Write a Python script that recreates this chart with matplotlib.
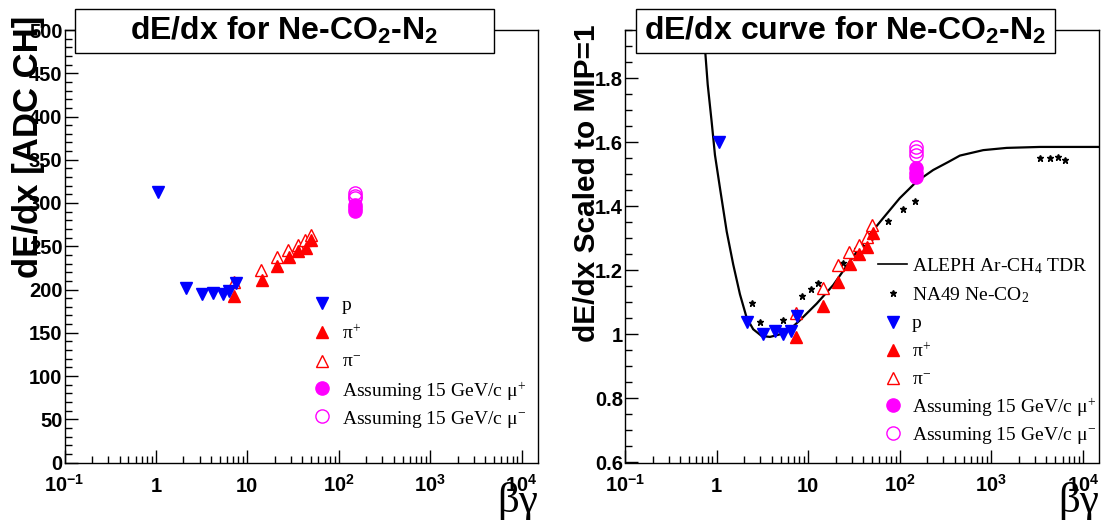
import matplotlib
matplotlib.use("Agg")
import matplotlib.pyplot as plt
from matplotlib.patches import Rectangle
from matplotlib.lines import Line2D
from matplotlib.ticker import LogLocator, NullFormatter, FixedLocator, MultipleLocator

plt.rcParams['font.family'] = ['Liberation Sans', 'DejaVu Sans']
plt.rcParams['mathtext.fontset'] = 'custom'
plt.rcParams['mathtext.rm'] = 'Liberation Serif'
plt.rcParams['mathtext.it'] = 'Liberation Serif'
plt.rcParams['mathtext.bf'] = 'Liberation Sans:bold'
plt.rcParams['mathtext.sf'] = 'Liberation Sans'

# ---------------- data: left panel (raw ADC) ----------------
p_bg_l = [1.06, 2.13, 3.16, 4.23, 5.36, 6.33, 7.48]
p_adc = [313, 202, 195, 196, 195, 198, 207]
pip_bg_l = [7.1, 14.3, 21.2, 28.5, 35.4, 43.3, 50.3]
pip_adc = [193, 211, 227, 237, 244, 248, 257]
pim_bg_l = [7.1, 14.0, 21.2, 28.0, 35.4, 42.4, 50.3]
pim_adc = [209, 223, 238, 246, 252, 257, 263]
mu_bg = [150, 150, 150]
mup_adc = [291, 294, 298]
mum_adc = [306, 308, 311]

# ---------------- data: right panel (scaled to MIP) ----------------
p_bg_r = [1.07, 2.13, 3.24, 4.35, 5.35, 6.44, 7.49]
p_mip = [1.60, 1.04, 1.00, 1.01, 1.00, 1.01, 1.057]
pip_bg_r = [7.3, 14.4, 21.3, 28.6, 35.9, 43.5, 50.6]
pip_mip = [0.992, 1.089, 1.164, 1.22, 1.251, 1.272, 1.315]
pim_bg_r = [7.3, 14.4, 21.3, 28.1, 35.9, 43.5, 50.2]
pim_mip = [1.068, 1.145, 1.216, 1.257, 1.28, 1.303, 1.342]
mup_mip = [1.49, 1.505, 1.52]
mum_mip = [1.56, 1.573, 1.585]
na49_bg = [2.42, 2.98, 5.27, 8.5, 10.7, 12.9, 23.8, 33.9, 38.4, 47.3, 74.9, 109,
           146.5, 3400, 4365, 5335, 6350]
na49_mip = [1.099, 1.037, 1.044, 1.12, 1.143, 1.159, 1.223, 1.266, 1.277, 1.296,
            1.355, 1.391, 1.415, 1.552, 1.552, 1.554, 1.543]
aleph_bg = [0.70, 0.80, 0.884, 0.96, 1.09, 1.29, 1.52, 1.80, 2.13, 2.51, 3.10,
            3.83, 4.92, 6.33, 8.13, 12.4, 18.8, 28.6, 43.5, 66, 100, 153, 232,
            339, 454, 816, 1470, 3400, 15000]
aleph_mip = [2.0, 1.78, 1.663, 1.56, 1.456, 1.321, 1.218, 1.125, 1.052, 1.016,
             0.995, 0.992, 1.0, 1.016, 1.044, 1.096, 1.154, 1.228, 1.3, 1.363,
             1.425, 1.477, 1.513, 1.538, 1.558, 1.575, 1.582, 1.585, 1.585]

xtick_vals = [0.1, 1, 10, 100, 1000, 10000]
xtick_labels = [r'$\mathbf{10^{-1}}$', '1', '10', r'$\mathbf{10^{2}}$',
                r'$\mathbf{10^{3}}$', r'$\mathbf{10^{4}}$']
ytick_left = [0, 50, 100, 150, 200, 250, 300, 350, 400, 450, 500]
ytick_right = [0.6, 0.8, 1.0, 1.2, 1.4, 1.6, 1.8]
ytick_right_labels = ['0.6', '0.8', '1', '1.2', '1.4', '1.6', '1.8']

legend_labels_left = ['p', r'$\pi^{+}$', r'$\pi^{-}$',
                      r'Assuming 15 GeV/c $\mu^{+}$', r'Assuming 15 GeV/c $\mu^{-}$']
legend_labels_right = [r'ALEPH Ar-CH$_{4}$ TDR', r'NA49 Ne-CO$_{2}$'] + legend_labels_left

W, H = 1105, 520
fig = plt.figure(figsize=(W / 100, H / 100), dpi=100)

def fx(px):
    return px / W

def fy(py):
    return 1 - py / H

ax_top, ax_bot = 30.0, 462.5
axL = fig.add_axes([fx(64.5), fy(ax_bot), (537.7 - 64.5) / W, (ax_bot - ax_top) / H])
axR = fig.add_axes([fx(625), fy(ax_bot), (1099 - 625) / W, (ax_bot - ax_top) / H])

BLUE = '#0000ff'
RED = '#ff0000'
MAG = '#ff00ff'
TRI_MS = 9
CIR_MS = 9.5

sty = {
    'p': dict(marker='v', ms=TRI_MS, mfc=BLUE, mec=BLUE, ls='none'),
    'pip': dict(marker='^', ms=TRI_MS, mfc=RED, mec=RED, ls='none'),
    'pim': dict(marker='^', ms=TRI_MS, mfc='white', mec=RED, mew=1.0, ls='none'),
    'mup': dict(marker='o', ms=CIR_MS, mfc=MAG, mec=MAG, ls='none'),
    'mum': dict(marker='o', ms=CIR_MS, mfc='none', mec=MAG, mew=1.0, ls='none'),
    'na49': dict(marker='*', ms=5, mfc='black', mec='black', ls='none'),
    'aleph': dict(color='black', lw=1.6, marker=None),
}

# left panel
axL.plot(pim_bg_l, pim_adc, **sty['pim'])
axL.plot(pip_bg_l, pip_adc, **sty['pip'])
axL.plot(p_bg_l, p_adc, **sty['p'])
axL.plot(mu_bg, mup_adc, **sty['mup'])
axL.plot(mu_bg, mum_adc, **sty['mum'])

# right panel
axR.plot(aleph_bg, aleph_mip, **sty['aleph'])
axR.plot(na49_bg, na49_mip, **sty['na49'])
axR.plot(pim_bg_r, pim_mip, **sty['pim'])
axR.plot(pip_bg_r, pip_mip, **sty['pip'])
axR.plot(p_bg_r, p_mip, **sty['p'])
axR.plot(mu_bg, mup_mip, **sty['mup'])
axR.plot(mu_bg, mum_mip, **sty['mum'])

TICKFS = 14.5
for ax in (axL, axR):
    ax.set_xscale('log')
    ax.set_xlim(0.1, 15000)
    ax.xaxis.set_major_locator(FixedLocator(xtick_vals))
    ax.set_xticks(xtick_vals, labels=xtick_labels, fontsize=TICKFS, fontweight='bold')
    ax.xaxis.set_minor_locator(LogLocator(base=10, subs=[2, 3, 4, 5, 6, 7, 8, 9], numticks=20))
    ax.xaxis.set_minor_formatter(NullFormatter())
    ax.tick_params(axis='both', which='both', direction='in', top=False, right=False)
    ax.tick_params(axis='both', which='major', length=9.5, width=1.0)
    ax.tick_params(axis='both', which='minor', length=5, width=1.0)
    ax.tick_params(axis='x', which='major', pad=21)
    ax.tick_params(axis='y', which='major', pad=1.5)
    for lab in ax.get_xticklabels():
        lab.set_verticalalignment('baseline')
    for s in ax.spines.values():
        s.set_linewidth(1.0)

axL.set_ylim(0, 500)
axL.set_yticks(ytick_left, labels=[str(v) for v in ytick_left], fontsize=TICKFS, fontweight='bold')
axL.yaxis.set_minor_locator(MultipleLocator(10))

axR.set_ylim(0.6, 1.95)
axR.set_yticks(ytick_right, labels=ytick_right_labels, fontsize=TICKFS, fontweight='bold')
axR.yaxis.set_minor_locator(MultipleLocator(0.05))

# legends (manual, ROOT-like)
LEGFS = 14
def legend_entry(ax, xm, xt, y, key, label, line=None):
    if key == 'aleph':
        ax.add_line(Line2D(line, [y, y], transform=ax.transAxes, color='black', lw=1.2))
    else:
        st = dict(sty[key])
        st.pop('ls')
        ax.add_line(Line2D([xm], [y], transform=ax.transAxes, ls='none', **st))
    ax.text(xt, y, label, transform=ax.transAxes, ha='left', va='center_baseline',
            fontsize=LEGFS, family='Liberation Serif')

rowsL = [0.368, 0.3024, 0.2354, 0.1716, 0.1075]
keysL = ['p', 'pip', 'pim', 'mup', 'mum']
for y, k, lab in zip(rowsL, keysL, legend_labels_left):
    legend_entry(axL, 0.5435, 0.5858, y, k, lab)

rowsR = [0.459, 0.3926, 0.3256, 0.2601, 0.1947, 0.133, 0.0689]
keysR = ['aleph', 'na49', 'p', 'pip', 'pim', 'mup', 'mum']
for y, k, lab in zip(rowsR, keysR, legend_labels_right):
    legend_entry(axR, 0.566, 0.6049, y, k, lab, line=[0.5344, 0.5943])

# title boxes
def title_box(x0, x1, y0, y1, text):
    r = Rectangle((fx(x0), fy(y1)), (x1 - x0) / W, (y1 - y0) / H, transform=fig.transFigure,
                  facecolor='white', edgecolor='black', lw=1.0, zorder=5)
    fig.patches.append(r)
    fig.text(fx((x0 + x1) / 2), fy((y0 + y1) / 2), text, ha='center', va='center',
             fontsize=23, fontweight='bold', zorder=6)

title_box(75, 494, 9, 52.5, r'dE/dx for Ne-CO$_{\mathbf{2}}$-N$_{\mathbf{2}}$')
title_box(636, 1055, 9, 52.5, r'dE/dx curve for Ne-CO$_{\mathbf{2}}$-N$_{\mathbf{2}}$')

# axis titles
fig.text(fx(29), fy(16), 'dE/dx [ADC CH]', rotation=90, ha='center', va='top',
         fontsize=25, fontweight='bold')
fig.text(fx(587), fy(24), 'dE/dx Scaled to MIP=1', rotation=90, ha='center', va='top',
         fontsize=21.5, fontweight='bold')
fig.text(fx(537.7), fy(512), 'βγ', ha='right', va='baseline', fontsize=31,
         family='Liberation Serif')
fig.text(fx(1099), fy(512), 'βγ', ha='right', va='baseline', fontsize=31,
         family='Liberation Serif')

fig.savefig('out.png', dpi=100)
